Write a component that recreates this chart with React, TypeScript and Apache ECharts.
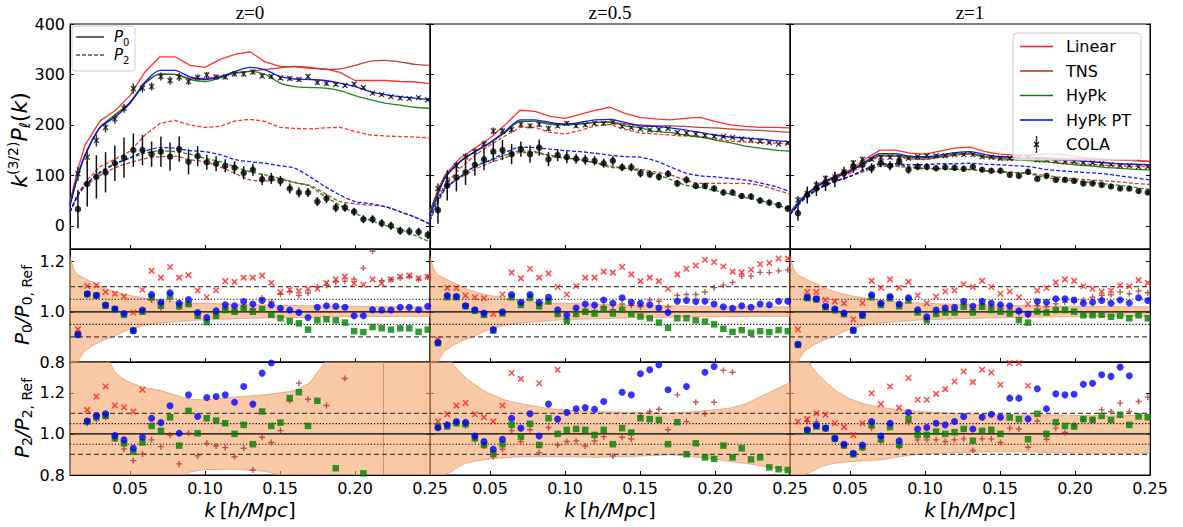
import React, { useEffect, useRef } from "react";
import * as echarts from "echarts";

// ---------- k grids ----------
const kCola = [0.0153, 0.0215, 0.0276, 0.0337, 0.0399, 0.046, 0.0522, 0.0583, 0.0644, 0.0706, 0.0767, 0.0828, 0.089, 0.0951, 0.1012, 0.1074, 0.1135, 0.1197, 0.1258, 0.1319, 0.1381, 0.1442, 0.1503, 0.1565, 0.1626, 0.1687, 0.1749, 0.181, 0.1872, 0.1933, 0.1994, 0.2056, 0.2117, 0.2178, 0.224, 0.2301, 0.2362, 0.2424, 0.2485];
const kModel = [0.01, 0.015, 0.02, 0.03, 0.04, 0.05, 0.06, 0.07, 0.08, 0.09, 0.1, 0.11, 0.12, 0.13, 0.14, 0.15, 0.16, 0.17, 0.18, 0.19, 0.2, 0.21, 0.22, 0.23, 0.24, 0.25];
const kBand = [0.01, 0.0125, 0.015, 0.0175, 0.02, 0.025, 0.03, 0.035, 0.04, 0.045, 0.05, 0.06, 0.07, 0.08, 0.09, 0.1, 0.12, 0.14, 0.16, 0.17, 0.18, 0.19, 0.2, 0.21, 0.22, 0.23, 0.24, 0.25];

// ---------- z = 0 : k^{3/2} P_l ----------
const linP0_z0 = [48, 110, 160, 208, 228, 258, 305, 335, 335, 318, 314, 330, 340, 345, 325, 316, 315, 312, 311, 304, 288, 288, 288, 286, 285, 282];
const tnsP0_z0 = [40, 98, 140, 195, 218, 243, 282, 300, 300, 292, 292, 296, 302, 306, 310, 313, 316, 314, 310, 311, 318, 326, 328, 325, 320, 318];
const hypkP0_z0 = [45, 100, 140, 195, 220, 245, 283, 301, 300, 290, 286, 293, 303, 306, 300, 283, 276, 274, 273, 268, 258, 250, 243, 239, 235, 233];
const ptP0_z0 = [40, 95, 140, 195, 215, 243, 285, 308, 308, 295, 290, 295, 306, 314, 309, 296, 291, 290, 288, 283, 276, 266, 260, 256, 253, 250];
const linP2_z0 = [28, 60, 86, 117, 132, 148, 180, 203, 209, 200, 195, 197, 208, 211, 207, 195, 193, 192, 194, 195, 187, 180, 178, 177, 176, 174];
const tnsP2_z0 = [26, 58, 78, 100, 115, 125, 133, 137, 138, 131, 127, 117, 104, 91, 89, 92, 85, 80, 64, 48, 44, 41, 38, 28, 17, 4];
const hypkP2_z0 = [28, 60, 80, 107, 124, 134, 144, 149, 147, 142, 134, 127, 117, 107, 101, 94, 86, 78, 58, 41, 25, 11, 1, -7, -19, -32];
const ptP2_z0 = [28, 60, 80, 105, 122, 135, 148, 155, 154, 149, 147, 141, 131, 127, 124, 119, 114, 97, 78, 61, 48, 44, 38, 28, 17, 3];
const colaP0_z0 = [103, 136, 169, 195, 212, 233, 272, 273, 276, 296, 288, 295, 286, 294, 299, 295, 295, 301, 301, 305, 297, 296, 293, 292, 290, 296, 284, 282, 280, 278, 281, 274, 263, 260, 256, 253, 252, 254, 250];
const errP0_z0 = [14, 15, 12, 10, 9, 9, 10, 9, 8, 8, 8, 8, 7, 6, 6, 5, 5, 5, 5, 5, 4, 4, 4, 4, 4, 4, 4, 4, 3, 3, 3, 3, 3, 3, 3, 3, 3, 3, 3];
const colaP2_z0 = [33, 83, 97, 106, 124, 135, 150, 150, 142, 147, 137, 152, 127, 138, 126, 123, 119, 115, 105, 111, 92, 94, 89, 74, 66, 66, 48, 54, 36, 36, 28, 13, 13, 5, 0, -10, -11, -12, -18];
const errP2_z0 = [38, 45, 43, 40, 35, 40, 33, 30, 25, 30, 28, 25, 25, 20, 15, 15, 13, 13, 13, 12, 11, 11, 10, 10, 10, 9, 9, 9, 9, 8, 8, 8, 8, 8, 8, 8, 8, 8, 8];

// ---------- z = 0.5 ----------
const linP0_z05 = [28, 70, 101, 134, 154, 174, 200, 229, 227, 217, 213, 221, 229, 235, 223, 215, 212, 210, 213, 215, 207, 200, 197, 195, 195, 194];
const tnsP0_z05 = [28, 65, 95, 127, 147, 164, 185, 207, 207, 203, 202, 202, 205, 206, 202, 200, 198, 198, 197, 195, 194, 192, 190, 189, 187, 185];
const hypkP0_z05 = [28, 65, 97, 127, 147, 164, 185, 207, 207, 201, 200, 202, 205, 205, 198, 194, 187, 185, 180, 176, 170, 165, 158, 154, 150, 148];
const ptP0_z05 = [20, 60, 95, 127, 147, 165, 187, 210, 210, 205, 201, 205, 210, 211, 205, 198, 197, 194, 190, 185, 180, 176, 174, 172, 169, 167];
const linP2_z05 = [25, 55, 81, 114, 140, 160, 178, 195, 195, 185, 182, 189, 198, 201, 191, 184, 182, 180, 178, 176, 172, 168, 166, 165, 164, 162];
const tnsP2_z05 = [15, 50, 75, 95, 112, 125, 135, 145, 145, 138, 134, 131, 124, 116, 114, 112, 107, 101, 91, 84, 84, 84, 84, 80, 72, 63];
const hypkP2_z05 = [15, 50, 75, 97, 117, 129, 140, 148, 147, 140, 135, 131, 125, 119, 114, 109, 103, 92, 81, 76, 70, 63, 56, 50, 43, 32];
const ptP2_z05 = [10, 45, 72, 97, 118, 130, 145, 156, 155, 152, 149, 147, 144, 140, 137, 136, 129, 117, 105, 99, 97, 94, 91, 85, 78, 68];
const colaP0_z05 = [74, 91, 119, 137, 147, 162, 188, 188, 191, 201, 198, 201, 193, 198, 203, 198, 200, 203, 203, 205, 197, 195, 192, 190, 191, 193, 185, 184, 182, 179, 177, 177, 175, 172, 170, 167, 165, 162, 164];
const errP0_z05 = [10, 9, 8, 7, 7, 7, 7, 6, 6, 5, 5, 5, 5, 4, 4, 4, 4, 4, 4, 4, 3, 3, 3, 3, 3, 3, 3, 3, 3, 3, 3, 3, 2, 2, 2, 2, 2, 2, 2];
const colaP2_z05 = [31, 80, 96, 106, 121, 132, 147, 150, 142, 152, 142, 155, 132, 140, 136, 133, 131, 129, 124, 129, 116, 116, 104, 102, 97, 103, 84, 91, 79, 79, 74, 66, 66, 59, 58, 50, 46, 41, 34];
const errP2_z05 = [27, 30, 28, 25, 22, 22, 20, 20, 20, 15, 17, 16, 14, 12, 12, 10, 10, 9, 9, 9, 8, 8, 8, 7, 7, 7, 7, 7, 6, 6, 6, 6, 6, 6, 6, 6, 6, 6, 6];

// ---------- z = 1 ----------
const linP0_z1 = [28, 45, 61, 84, 99, 111, 132, 150, 150, 144, 142, 148, 154, 156, 147, 142, 140, 140, 142, 142, 137, 134, 132, 131, 129, 127];
const tnsP0_z1 = [25, 45, 60, 82, 97, 108, 124, 138, 138, 133, 132, 136, 140, 142, 136, 137, 136, 136, 135, 134, 133, 132, 131, 130, 129, 128];
const hypkP0_z1 = [25, 45, 60, 82, 97, 108, 125, 140, 140, 136, 135, 138, 142, 144, 137, 134, 131, 129, 127, 124, 121, 119, 116, 114, 112, 111];
const ptP0_z1 = [22, 42, 58, 82, 96, 108, 127, 143, 143, 138, 137, 140, 145, 147, 141, 137, 135, 134, 133, 131, 129, 127, 125, 123, 122, 121];
const linP2_z1 = [22, 40, 55, 78, 93, 104, 123, 138, 138, 133, 131, 136, 142, 144, 136, 131, 130, 130, 130, 129, 125, 122, 120, 119, 118, 117];
const tnsP2_z1 = [22, 40, 55, 75, 88, 98, 108, 118, 118, 115, 113, 113, 112, 111, 109, 107, 106, 104, 100, 96, 93, 91, 89, 87, 84, 82];
const hypkP2_z1 = [22, 40, 55, 75, 88, 98, 111, 121, 121, 117, 114, 114, 112, 112, 109, 107, 105, 103, 96, 92, 89, 86, 83, 80, 76, 72];
const ptP2_z1 = [22, 40, 55, 75, 88, 98, 112, 123, 123, 121, 121, 123, 123, 124, 122, 121, 119, 117, 112, 109, 107, 105, 103, 99, 95, 91];
const colaP0_z1 = [51, 64, 81, 94, 97, 107, 125, 132, 132, 136, 136, 136, 134, 137, 139, 139, 139, 141, 141, 141, 137, 136, 134, 134, 136, 136, 131, 131, 129, 127, 127, 125, 125, 123, 121, 119, 119, 117, 117];
const errP0_z1 = [8, 7, 7, 6, 6, 5, 5, 5, 4, 4, 4, 4, 3, 3, 3, 3, 3, 3, 3, 3, 3, 2, 2, 2, 2, 2, 2, 2, 2, 2, 2, 2, 2, 2, 2, 2, 2, 2, 2];
const colaP2_z1 = [25, 61, 74, 84, 92, 104, 117, 121, 114, 125, 119, 127, 111, 117, 117, 114, 116, 115, 113, 117, 111, 109, 109, 101, 99, 107, 93, 99, 91, 91, 89, 84, 84, 81, 78, 74, 74, 69, 66];
const errP2_z1 = [15, 17, 15, 15, 15, 13, 12, 11, 10, 9, 9, 8, 8, 7, 7, 6, 6, 6, 6, 5, 5, 5, 5, 5, 5, 5, 4, 4, 4, 4, 4, 4, 4, 4, 4, 4, 4, 4, 4];

// ---------- P0 / P0,Ref ----------
const rLinP0_z0 = [0.93, 1.103, 1.106, 1.079, 1.072, 1.061, 0.997, 1.088, 1.163, 1.136, 1.178, 1.136, 1.146, 1.085, 1.058, 1.085, 1.122, 1.119, 1.136, 1.136, 1.144, 1.115, 1.079, 1.088, 1.083, 1.092, 1.092, 1.115, 1.129, 1.14, 1.113, 1.108, 1.129, 1.113, 1.129, 1.14, 1.144, 1.133, 1.14];
const rTnsP0_z0 = [0.912, 1.068, 1.063, 1.025, 1.01, 0.99, 0.925, 1.0, 1.047, 1.014, 1.05, 1.018, 1.03, 0.99, 0.965, 0.99, 1.01, 1.005, 1.02, 1.012, 1.055, 1.04, 1.07, 1.08, 1.065, 1.075, 1.1, 1.105, 1.118, 1.122, 1.13, 1.174, 1.241, 1.125, 1.128, 1.135, 1.14, 1.13, 1.138];
const rHypkP0_z0 = [0.909, 1.07, 1.065, 1.024, 1.011, 0.988, 0.925, 1.0, 1.058, 1.027, 1.065, 1.022, 1.031, 0.984, 0.959, 0.984, 1.007, 1.0, 1.014, 1.0, 1.011, 0.988, 0.974, 0.963, 0.954, 0.929, 0.966, 0.97, 0.966, 0.957, 0.923, 0.919, 0.939, 0.934, 0.929, 0.934, 0.934, 0.92, 0.929];
const rPtP0_z0 = [0.909, 1.072, 1.065, 1.027, 1.011, 0.993, 0.925, 1.007, 1.069, 1.038, 1.076, 1.034, 1.049, 0.997, 0.977, 1.004, 1.028, 1.024, 1.041, 1.031, 1.045, 1.027, 1.014, 1.007, 0.997, 0.977, 1.018, 1.024, 1.022, 1.018, 0.984, 0.984, 1.008, 1.007, 1.007, 1.018, 1.018, 1.008, 1.022];
const rLinP0_z05 = [0.889, 1.095, 1.095, 1.065, 1.058, 1.054, 0.991, 1.069, 1.156, 1.133, 1.171, 1.136, 1.153, 1.099, 1.069, 1.103, 1.136, 1.136, 1.16, 1.156, 1.178, 1.149, 1.122, 1.136, 1.122, 1.092, 1.149, 1.171, 1.184, 1.207, 1.198, 1.18, 1.16, 1.157, 1.167, 1.19, 1.194, 1.212, 1.212];
const rTnsP0_z05 = [0.877, 1.06, 1.059, 1.023, 1.006, 0.99, 0.927, 0.996, 1.06, 1.03, 1.06, 1.025, 1.045, 0.995, 0.97, 0.998, 1.008, 1.003, 1.02, 1.008, 1.031, 1.025, 1.02, 1.047, 1.042, 1.02, 1.065, 1.069, 1.069, 1.079, 1.096, 1.106, 1.117, 1.142, 1.142, 1.157, 1.156, 1.163, 1.167];
const rHypkP0_z05 = [0.875, 1.058, 1.058, 1.022, 1.004, 0.988, 0.925, 0.993, 1.058, 1.027, 1.056, 1.022, 1.041, 0.991, 0.963, 0.991, 1.0, 0.993, 1.011, 0.993, 1.008, 0.991, 0.981, 0.974, 0.957, 0.936, 0.974, 0.974, 0.966, 0.961, 0.95, 0.932, 0.92, 0.927, 0.916, 0.923, 0.919, 0.927, 0.923];
const rPtP0_z05 = [0.878, 1.065, 1.061, 1.024, 1.008, 0.995, 0.929, 1.0, 1.069, 1.038, 1.069, 1.038, 1.058, 1.008, 0.986, 1.015, 1.031, 1.027, 1.047, 1.034, 1.056, 1.038, 1.034, 1.028, 1.015, 0.997, 1.042, 1.045, 1.041, 1.042, 1.031, 1.02, 1.014, 1.024, 1.018, 1.031, 1.028, 1.042, 1.042];
const rLinP0_z1 = [0.93, 1.079, 1.079, 1.047, 1.041, 1.034, 0.97, 1.035, 1.123, 1.096, 1.129, 1.096, 1.119, 1.065, 1.034, 1.061, 1.081, 1.085, 1.11, 1.099, 1.123, 1.099, 1.072, 1.081, 1.058, 1.031, 1.085, 1.095, 1.117, 1.129, 1.123, 1.102, 1.092, 1.081, 1.085, 1.106, 1.102, 1.126, 1.115];
const rTnsP0_z1 = [0.869, 1.055, 1.05, 1.02, 1.008, 0.992, 0.926, 0.986, 1.062, 1.03, 1.057, 1.026, 1.05, 1.002, 0.972, 0.998, 1.005, 1.006, 1.03, 1.008, 1.03, 1.02, 1.014, 1.01, 0.995, 0.985, 1.024, 1.02, 1.032, 1.038, 1.04, 1.047, 1.058, 1.065, 1.068, 1.079, 1.072, 1.083, 1.076];
const rHypkP0_z1 = [0.868, 1.054, 1.049, 1.018, 1.006, 0.99, 0.925, 0.984, 1.058, 1.027, 1.054, 1.022, 1.045, 0.997, 0.966, 0.991, 0.997, 0.997, 1.02, 0.997, 1.02, 1.007, 1.0, 0.993, 0.967, 0.957, 1.001, 0.997, 1.007, 1.007, 1.001, 0.986, 0.986, 0.988, 0.98, 0.984, 0.974, 0.986, 0.974];
const rPtP0_z1 = [0.871, 1.058, 1.052, 1.022, 1.011, 0.995, 0.927, 0.988, 1.068, 1.034, 1.061, 1.031, 1.056, 1.008, 0.98, 1.007, 1.015, 1.018, 1.042, 1.022, 1.042, 1.034, 1.028, 1.024, 1.004, 0.991, 1.041, 1.038, 1.052, 1.052, 1.047, 1.034, 1.038, 1.045, 1.034, 1.047, 1.035, 1.056, 1.045];

// ---------- P2 / P2,Ref (null = off the plotted range) ----------
const rLinP2_z0 = [null, 1.117, 1.182, 1.231, 1.138, 1.13, 1.109, 1.215, null, null, null, null, null, null, null, null, null, null, null, null, null, null, null, null, null, null, null, null, null, null, null, null, null, null, null, null, null, null, null];
const rTnsP2_z0 = [null, 1.052, 1.07, 1.08, 0.975, 0.927, 0.87, 0.902, 0.971, 0.938, 0.995, 0.854, 1.003, 0.893, 0.954, 0.941, 0.933, 0.889, 0.93, 0.824, 0.984, 0.958, 1.016, 1.161, 1.247, 1.169, null, 1.138, null, 1.27, null, null, null, null, null, null, null, null, null];
const rHypkP2_z0 = [null, 1.06, 1.081, 1.088, 0.979, 0.954, 0.914, 0.958, 1.039, 1.015, 1.081, 0.943, 1.112, 1.003, 1.076, 1.065, 1.052, 1.0, 1.044, 0.95, 1.109, 1.039, 1.055, 1.174, 1.203, 1.039, 1.161, null, 0.833, null, null, 0.808, null, null, null, null, null, null, null];
const rPtP2_z0 = [null, 1.063, 1.089, 1.098, 0.992, 0.971, 0.93, 0.984, 1.076, 1.055, 1.137, 1.003, 1.19, 1.085, 1.177, 1.182, 1.19, 1.154, 1.231, 1.145, 1.296, 1.345, null, null, null, null, null, null, null, null, null, null, null, null, null, null, null, null, null];
const rLinP2_z05 = [1.06, 1.096, 1.138, 1.15, 1.096, 1.081, 1.06, 1.138, 1.296, 1.268, null, 1.247, null, 1.312, null, null, null, null, null, null, null, null, null, null, null, null, null, null, null, null, null, null, null, null, null, null, null, null, null];
const rTnsP2_z05 = [1.03, 1.044, 1.052, 1.04, 0.971, 0.941, 0.889, 0.925, 1.016, 0.963, 1.02, 0.909, 1.031, 0.946, 0.963, 0.966, 0.941, 0.966, 0.987, 0.893, 0.984, 0.975, 1.088, 1.109, 1.12, 1.02, 1.19, 1.06, 1.154, 1.098, 1.154, 1.309, 1.3, null, null, null, null, null, null];
const rHypkP2_z05 = [1.036, 1.036, 1.052, 1.047, 0.979, 0.946, 0.906, 0.95, 1.044, 0.987, 1.049, 0.946, 1.076, 1.0, 1.02, 1.024, 1.02, 0.995, 1.02, 0.95, 1.028, 1.007, 1.076, 1.072, 1.068, 0.95, 1.057, 0.901, 0.954, 0.886, 0.878, 0.943, 0.886, 0.93, 0.876, 0.886, 0.837, 0.828, 0.824];
const rPtP2_z05 = [1.03, 1.044, 1.06, 1.057, 0.99, 0.963, 0.925, 0.974, 1.076, 1.028, 1.098, 0.99, 1.145, 1.072, 1.104, 1.122, 1.128, 1.12, 1.158, null, 1.203, 1.19, 1.293, 1.312, 1.337, 1.215, null, 1.231, null, 1.3, 1.328, null, null, null, null, null, null, null, null];
const rLinP2_z1 = [1.06, 1.072, 1.101, 1.093, 1.052, 1.033, 0.995, 1.052, 1.198, 1.145, 1.231, 1.128, 1.272, 1.166, 1.166, 1.195, 1.218, 1.255, 1.304, 1.252, 1.312, 1.299, 1.239, 1.345, 1.345, 1.234, null, null, null, null, null, null, null, null, null, null, null, null, null];
const rTnsP2_z1 = [null, 1.06, 1.06, 1.028, 0.971, 0.941, 0.898, 0.93, 1.028, 0.963, 1.052, 0.938, 1.055, 0.971, 0.971, 0.971, 0.963, 0.971, 0.976, 0.919, 0.976, 0.976, 0.958, 1.028, 1.024, 0.935, 1.063, 0.974, 1.028, 1.007, 1.044, 1.07, 1.07, 1.117, 1.109, 1.15, 1.109, 1.158, 1.179];
const rHypkP2_z1 = [null, 1.015, 1.036, 1.028, 0.976, 0.943, 0.901, 0.935, 1.044, 0.974, 1.033, 0.946, 1.072, 0.995, 0.995, 1.011, 1.0, 1.008, 1.024, 0.967, 1.015, 1.02, 1.0, 1.08, 1.072, 0.974, 1.098, 1.0, 1.057, 1.039, 1.036, 1.072, 1.068, 1.088, 1.068, 1.093, 1.044, 1.085, 1.081];
const rPtP2_z1 = [null, 1.02, 1.041, 1.028, 0.979, 0.95, 0.906, 0.946, 1.06, 0.99, 1.052, 0.966, 1.104, 1.024, 1.031, 1.052, 1.044, 1.06, 1.085, 1.024, 1.081, 1.096, 1.081, 1.174, 1.174, 1.073, 1.22, 1.122, 1.195, 1.19, 1.193, 1.242, 1.247, 1.288, 1.28, 1.325, 1.283, 1.353, null];

// ---------- error bands ----------
const bandP0Hi = [1.22, 1.17, 1.147, 1.14, 1.132, 1.118, 1.104, 1.09, 1.08, 1.072, 1.065, 1.054, 1.046, 1.04, 1.036, 1.034, 1.03, 1.027, 1.025, 1.024, 1.023, 1.022, 1.022, 1.021, 1.021, 1.02, 1.02, 1.019];
const bandP0Lo = [0.7, 0.76, 0.8, 0.825, 0.845, 0.866, 0.88, 0.893, 0.905, 0.918, 0.93, 0.946, 0.955, 0.96, 0.965, 0.968, 0.972, 0.975, 0.977, 0.978, 0.979, 0.98, 0.98, 0.981, 0.981, 0.982, 0.982, 0.982];
const bandP2Hi_z0 = [1.6, 1.6, 1.6, 1.6, 1.6, 1.6, 1.5, 1.37, 1.3, 1.27, 1.25, 1.225, 1.212, 1.19, 1.168, 1.166, 1.18, 1.19, 1.21, 1.25, 1.35, 1.6, 1.6, 1.6, 1.6, 1.6, 1.6, 1.6];
const bandP2Lo_z0 = [0.6, 0.6, 0.6, 0.6, 0.6, 0.6, 0.6, 0.6, 0.6, 0.6, 0.6, 0.6, 0.6, 0.78, 0.815, 0.826, 0.828, 0.818, 0.78, 0.7, 0.6, 0.6, 0.6, 0.6, 0.6, 0.6, 0.6, 0.6];
const bandP2Hi_z05 = [1.6, 1.6, 1.6, 1.6, 1.45, 1.34, 1.3, 1.265, 1.24, 1.215, 1.195, 1.165, 1.148, 1.135, 1.122, 1.117, 1.109, 1.106, 1.102, 1.102, 1.106, 1.11, 1.118, 1.126, 1.145, 1.18, 1.215, 1.25];
const bandP2Lo_z05 = [0.6, 0.7, 0.76, 0.78, 0.8, 0.82, 0.845, 0.86, 0.867, 0.873, 0.878, 0.884, 0.888, 0.889, 0.889, 0.889, 0.886, 0.889, 0.895, 0.898, 0.893, 0.885, 0.876, 0.866, 0.857, 0.845, 0.832, 0.816];
const bandP2Hi_z1 = [1.6, 1.6, 1.6, 1.5, 1.4, 1.32, 1.28, 1.245, 1.215, 1.19, 1.17, 1.145, 1.13, 1.12, 1.113, 1.108, 1.1, 1.094, 1.093, 1.093, 1.093, 1.092, 1.09, 1.089, 1.088, 1.088, 1.09, 1.093];
const bandP2Lo_z1 = [0.6, 0.7, 0.77, 0.79, 0.8, 0.82, 0.84, 0.85, 0.857, 0.861, 0.865, 0.869, 0.873, 0.885, 0.896, 0.902, 0.908, 0.912, 0.913, 0.912, 0.91, 0.908, 0.907, 0.906, 0.906, 0.906, 0.906, 0.906];
// thin vertical band artefact seen in the z=0 P2 panel
const bandSpikeK_z0 = [0.219];

// reference lines in ratio panels
const refLevels = [1.0, 0.95, 1.05, 0.9, 1.1];
const titles = ["z=0", "z=0.5", "z=1"];
const legendModels = ["Linear", "TNS", "HyPk", "HyPk PT"];

const RED = "#ff1a1a";
const BROWN = "#b03030";
const GREEN = "#008000";
const BLUE = "#0000ff";
const MODEL_COLORS = [RED, BROWN, GREEN, BLUE];

const COLS = [
  {
    models: [[linP0_z0, linP2_z0], [tnsP0_z0, tnsP2_z0], [hypkP0_z0, hypkP2_z0], [ptP0_z0, ptP2_z0]],
    cola: [colaP0_z0, colaP2_z0], err: [errP0_z0, errP2_z0],
    r0: [rLinP0_z0, rTnsP0_z0, rHypkP0_z0, rPtP0_z0],
    r2: [rLinP2_z0, rTnsP2_z0, rHypkP2_z0, rPtP2_z0],
    band2: [bandP2Lo_z0, bandP2Hi_z0],
    spikes: bandSpikeK_z0,
  },
  {
    models: [[linP0_z05, linP2_z05], [tnsP0_z05, tnsP2_z05], [hypkP0_z05, hypkP2_z05], [ptP0_z05, ptP2_z05]],
    cola: [colaP0_z05, colaP2_z05], err: [errP0_z05, errP2_z05],
    r0: [rLinP0_z05, rTnsP0_z05, rHypkP0_z05, rPtP0_z05],
    r2: [rLinP2_z05, rTnsP2_z05, rHypkP2_z05, rPtP2_z05],
    band2: [bandP2Lo_z05, bandP2Hi_z05],
    spikes: [] as number[],
  },
  {
    models: [[linP0_z1, linP2_z1], [tnsP0_z1, tnsP2_z1], [hypkP0_z1, hypkP2_z1], [ptP0_z1, ptP2_z1]],
    cola: [colaP0_z1, colaP2_z1], err: [errP0_z1, errP2_z1],
    r0: [rLinP0_z1, rTnsP0_z1, rHypkP0_z1, rPtP0_z1],
    r2: [rLinP2_z1, rTnsP2_z1, rHypkP2_z1, rPtP2_z1],
    band2: [bandP2Lo_z1, bandP2Hi_z1],
    spikes: [] as number[],
  },
];

// layout
const LEFT = [70, 430, 790];
const WIDTH = 360;
const TOP = [24, 249, 362];
const HEIGHT = [225, 113, 113];
const YMIN = [-46, 0.8, 0.8];
const YMAX = [400, 1.25, 1.35];
const FONT = "DejaVu Sans";

const X_SYM = "path://M0,0L10,10M10,0L0,10";
const PLUS_SYM = "path://M5,0L5,10M0,5L10,5";

function pairs(k: number[], v: (number | null)[]) {
  const out: number[][] = [];
  for (let i = 0; i < k.length; i++) {
    const y = v[i];
    if (y !== null && y !== undefined) out.push([k[i], y]);
  }
  return out;
}

function buildOption() {
  const grid: any[] = [];
  const xAxis: any[] = [];
  const yAxis: any[] = [];
  const yAxisRight: any[] = [];
  const series: any[] = [];

  for (let r = 0; r < 3; r++) {
    for (let c = 0; c < 3; c++) {
      const g = r * 3 + c;
      grid.push({
        left: LEFT[c], top: TOP[r], width: WIDTH, height: HEIGHT[r],
        show: true, borderColor: "#000", borderWidth: 1, backgroundColor: "transparent",
      });
      xAxis.push({
        type: "value", gridIndex: g, min: 0.01, max: 0.25,
        axisLine: { show: true, onZero: false, lineStyle: { color: "#000", width: 1 } },
        axisTick: { show: true, inside: true, length: 4, lineStyle: { color: "#000" } },
        axisLabel: {
          show: r === 2, showMinLabel: false, formatter: (v: number) => v.toFixed(2),
          fontSize: 16, color: "#000", fontFamily: FONT, margin: 5,
        },
        splitLine: { show: false },
      });
      const yBase: any = {
        type: "value", gridIndex: g, min: YMIN[r], max: YMAX[r],
        axisLine: { show: true, onZero: false, lineStyle: { color: "#000", width: 1 } },
        axisTick: { show: true, inside: true, length: 4, lineStyle: { color: "#000" } },
        splitLine: { show: false },
      };
      if (r > 0) yBase.interval = 0.2;
      yAxis.push({
        ...yBase, position: "left",
        axisLabel: {
          show: c === 0, showMinLabel: r !== 0, showMaxLabel: r === 0,
          formatter: (v: number) => (r === 0 ? String(Math.round(v)) : v.toFixed(1)),
          fontSize: 16, color: "#000", fontFamily: FONT, margin: 5,
        },
      });
      yAxisRight.push({ ...yBase, position: "right", axisLabel: { show: false } });

      const col = COLS[c];
      if (r === 0) {
        for (let m = 0; m < 4; m++) {
          for (let l = 0; l < 2; l++) {
            series.push({
              type: "line", xAxisIndex: g, yAxisIndex: g, silent: true, z: 2,
              data: pairs(kModel, col.models[m][l]), symbol: "none",
              smooth: m === 0 ? false : 0.25,
              lineStyle: { color: MODEL_COLORS[m], width: 1.3, opacity: 0.9, type: l === 0 ? "solid" : [4, 2] },
            });
          }
        }
        for (let l = 0; l < 2; l++) {
          const v = col.cola[l];
          const e = col.err[l];
          series.push({
            type: "custom", xAxisIndex: g, yAxisIndex: g, silent: true, z: 3, clip: true,
            data: kCola.map((kk, i) => [kk, v[i] - e[i], v[i] + e[i]]),
            encode: { x: 0, y: [1, 2] },
            renderItem: (_p: any, api: any) => {
              const p1 = api.coord([api.value(0), api.value(1)]);
              const p2 = api.coord([api.value(0), api.value(2)]);
              return {
                type: "line",
                shape: { x1: p1[0], y1: p1[1], x2: p2[0], y2: p2[1] },
                style: { stroke: l === 0 ? "#333" : "#111", lineWidth: 1.5 },
              };
            },
          });
          series.push({
            type: "scatter", xAxisIndex: g, yAxisIndex: g, silent: true, z: 4,
            data: pairs(kCola, v),
            symbol: l === 0 ? X_SYM : "circle",
            symbolSize: l === 0 ? 5 : 6.5,
            itemStyle: l === 0
              ? { color: "rgba(0,0,0,0)", borderColor: "#111", borderWidth: 1.3 }
              : { color: "#000" },
          });
        }
      } else {
        const lo = r === 1 ? bandP0Lo : col.band2[0];
        const hi = r === 1 ? bandP0Hi : col.band2[1];
        series.push({
          type: "custom", xAxisIndex: g, yAxisIndex: g, silent: true, z: 1, clip: true,
          data: [[0.1, 1]],
          renderItem: (_p: any, api: any) => {
            const pts: number[][] = [];
            for (let i = 0; i < kBand.length; i++) pts.push(api.coord([kBand[i], hi[i]]));
            for (let i = kBand.length - 1; i >= 0; i--) pts.push(api.coord([kBand[i], lo[i]]));
            return {
              type: "polygon", shape: { points: pts },
              style: { fill: "rgba(246,166,110,0.62)", stroke: "rgba(225,130,90,0.7)", lineWidth: 0.8 },
            };
          },
        });
        if (r === 2) {
          col.spikes.forEach((ks) => {
            series.push({
              type: "line", xAxisIndex: g, yAxisIndex: g, silent: true, z: 1,
              data: [[ks, 0.8], [ks, 1.35]], symbol: "none",
              lineStyle: { color: "rgba(205,130,100,0.8)", width: 1 },
            });
          });
        }
        refLevels.forEach((lv, i) => {
          series.push({
            type: "line", xAxisIndex: g, yAxisIndex: g, silent: true, z: 2,
            data: [[0.01, lv], [0.25, lv]], symbol: "none",
            lineStyle: i === 0
              ? { color: "#000", width: 1.2, type: "solid" }
              : i < 3
                ? { color: "#000", width: 1.1, type: [1.2, 2] }
                : { color: "#444", width: 1.3, type: [5, 3] },
          });
        });
        const rs = r === 1 ? col.r0 : col.r2;
        series.push({
          type: "scatter", xAxisIndex: g, yAxisIndex: g, silent: true, z: 3,
          data: pairs(kCola, rs[0]), symbol: X_SYM, symbolSize: 5.5,
          itemStyle: { color: "rgba(0,0,0,0)", borderColor: RED, borderWidth: 1.5 },
        });
        series.push({
          type: "scatter", xAxisIndex: g, yAxisIndex: g, silent: true, z: 3,
          data: pairs(kCola, rs[1]), symbol: PLUS_SYM, symbolSize: 6,
          itemStyle: { color: "rgba(0,0,0,0)", borderColor: BROWN, borderWidth: 1.4 },
        });
        series.push({
          type: "scatter", xAxisIndex: g, yAxisIndex: g, silent: true, z: 3,
          data: pairs(kCola, rs[2]), symbol: "rect", symbolSize: 6.5,
          itemStyle: { color: GREEN },
        });
        series.push({
          type: "scatter", xAxisIndex: g, yAxisIndex: g, silent: true, z: 3,
          data: pairs(kCola, rs[3]), symbol: "circle", symbolSize: 7,
          itemStyle: { color: BLUE },
        });
      }
    }
  }

  const graphic: any[] = [];
  titles.forEach((t, c) => {
    graphic.push({
      type: "text", x: LEFT[c] + WIDTH / 2, y: 12, z: 100,
      style: { text: t, fontFamily: "Liberation Serif", fontSize: 19, fill: "#000", align: "center", verticalAlign: "middle", textAlign: "center", textVerticalAlign: "middle" },
    });
    graphic.push({
      type: "text", x: LEFT[c] + WIDTH / 2, y: 510, z: 100,
      style: {
        text: "{i|k}{n|\u2009[}{i|h/Mpc}{n|]}", align: "center", verticalAlign: "middle", textAlign: "center", textVerticalAlign: "middle",
        rich: {
          i: { fontFamily: FONT, fontStyle: "italic", fontSize: 20, fill: "#000", lineHeight: 22 },
          n: { fontFamily: FONT, fontSize: 20, fill: "#000", lineHeight: 22 },
        },
      },
    });
  });
  const richTop = {
    i: { fontFamily: FONT, fontStyle: "italic", fontSize: 22, fill: "#000", lineHeight: 26 },
    n: { fontFamily: FONT, fontSize: 22, fill: "#000", lineHeight: 26 },
    sup: { fontFamily: FONT, fontSize: 14, fill: "#000", verticalAlign: "top", lineHeight: 26 },
    sub: { fontFamily: FONT, fontSize: 15, fill: "#000", verticalAlign: "bottom", lineHeight: 24 },
  };
  const richY = {
    i: { fontFamily: FONT, fontStyle: "italic", fontSize: 20, fill: "#000", lineHeight: 24 },
    n: { fontFamily: FONT, fontSize: 20, fill: "#000", lineHeight: 24 },
    sup: { fontFamily: FONT, fontSize: 13, fill: "#000", verticalAlign: "top", lineHeight: 24 },
    sub: { fontFamily: FONT, fontSize: 14, fill: "#000", verticalAlign: "bottom", lineHeight: 22 },
  };
  graphic.push({
    type: "text", x: 19, y: 140, rotation: Math.PI / 2, z: 100,
    style: { text: "{i|k}{sup|(3/2)}{i|P}{sub|\u2113}{n|(}{i|k}{n|)}", rich: richTop, align: "center", verticalAlign: "middle", textAlign: "center", textVerticalAlign: "middle" },
  });
  graphic.push({
    type: "text", x: 22, y: 305, rotation: Math.PI / 2, z: 100,
    style: { text: "{i|P}{sub|0}{i|/P}{sub|0, Ref}", rich: richY, align: "center", verticalAlign: "middle", textAlign: "center", textVerticalAlign: "middle" },
  });
  graphic.push({
    type: "text", x: 22, y: 418, rotation: Math.PI / 2, z: 100,
    style: { text: "{i|P}{sub|2}{i|/P}{sub|2, Ref}", rich: richY, align: "center", verticalAlign: "middle", textAlign: "center", textVerticalAlign: "middle" },
  });

  const richP = {
    i: { fontFamily: FONT, fontStyle: "italic", fontSize: 15, fill: "#000" },
    s: { fontFamily: FONT, fontSize: 10, fill: "#000", verticalAlign: "bottom", lineHeight: 20 },
  };
  graphic.push({
    type: "rect", z: 90, shape: { x: 72, y: 26, width: 63, height: 45, r: 3 },
    style: { fill: "rgba(255,255,255,0.8)", stroke: "#cccccc", lineWidth: 1 },
  });
  graphic.push({ type: "line", z: 91, shape: { x1: 76, y1: 37, x2: 104, y2: 37 }, style: { stroke: "#000", lineWidth: 1.2 } });
  graphic.push({ type: "line", z: 91, shape: { x1: 76, y1: 55, x2: 104, y2: 55 }, style: { stroke: "#000", lineWidth: 1.2, lineDash: [4, 2] } });
  graphic.push({ type: "text", z: 91, x: 114, y: 37, style: { text: "{i|P}{s|0}", rich: richP, verticalAlign: "middle", textVerticalAlign: "middle" } });
  graphic.push({ type: "text", z: 91, x: 114, y: 55, style: { text: "{i|P}{s|2}", rich: richP, verticalAlign: "middle", textVerticalAlign: "middle" } });

  graphic.push({
    type: "rect", z: 90, shape: { x: 1013, y: 33, width: 128, height: 127, r: 4 },
    style: { fill: "rgba(255,255,255,0.8)", stroke: "#cccccc", lineWidth: 1 },
  });
  const rowsY = [46.5, 71, 95.5, 120, 144.5];
  legendModels.forEach((name, i) => {
    graphic.push({ type: "line", z: 91, shape: { x1: 1020, y1: rowsY[i], x2: 1053, y2: rowsY[i] }, style: { stroke: MODEL_COLORS[i], lineWidth: 1.3 } });
    graphic.push({ type: "text", z: 91, x: 1066, y: rowsY[i], style: { text: name, fontFamily: FONT, fontSize: 16, fill: "#000", verticalAlign: "middle", textVerticalAlign: "middle" } });
  });
  graphic.push({ type: "line", z: 91, shape: { x1: 1036.5, y1: 136, x2: 1036.5, y2: 153 }, style: { stroke: "#333", lineWidth: 1.5 } });
  graphic.push({ type: "line", z: 91, shape: { x1: 1034, y1: 142, x2: 1039, y2: 147 }, style: { stroke: "#111", lineWidth: 1.2 } });
  graphic.push({ type: "line", z: 91, shape: { x1: 1039, y1: 142, x2: 1034, y2: 147 }, style: { stroke: "#111", lineWidth: 1.2 } });
  graphic.push({ type: "text", z: 91, x: 1066, y: rowsY[4], style: { text: "COLA", fontFamily: FONT, fontSize: 16, fill: "#000", verticalAlign: "middle", textVerticalAlign: "middle" } });

  return {
    animation: false,
    backgroundColor: "#ffffff",
    grid,
    xAxis,
    yAxis: [...yAxis, ...yAxisRight],
    series,
    graphic,
  };
}

export default function App() {
  const ref = useRef<HTMLDivElement>(null);
  useEffect(() => {
    const chart = echarts.init(ref.current as HTMLDivElement, null, { renderer: "svg" });
    chart.setOption(buildOption() as any);
    return () => chart.dispose();
  }, []);
  return <div ref={ref} style={{ position: "absolute", left: 0, top: 0, width: 1183, height: 527 }} />;
}
